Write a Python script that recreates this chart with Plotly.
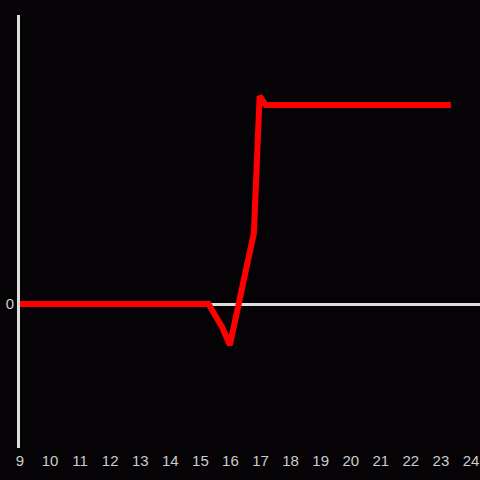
import plotly.graph_objs as go

# 數據
hours = [9, 15.27, 15.72, 15.98, 16.78, 16.97, 17.17, 23.33]
values = [0, 0, -0.23, -0.41, 0.71, 2.08, 1.99, 1.99]
x_ticks = list(range(9, 25))

fig = go.Figure()
fig.add_trace(go.Scatter(x=hours, y=values, mode="lines",
                         line=dict(color="#ff0000", width=6), showlegend=False))

fig.update_layout(
    width=480, height=480,
    paper_bgcolor="#050305", plot_bgcolor="#050305",
    margin=dict(l=20, r=0, t=15, b=32),
    font=dict(family="Liberation Sans, Arial, sans-serif", size=15, color="#cccccc"),
    xaxis=dict(range=[9, 24.3], tickvals=x_ticks, showgrid=False, zeroline=False,
               showline=False, ticks="", automargin=False, ticklabelstandoff=2),
    yaxis=dict(range=[-1.44, 2.89], tickvals=[0], showgrid=False, zeroline=True,
               zerolinecolor="#dddddd", zerolinewidth=3, showline=True,
               linecolor="#dddddd", linewidth=3, ticks="", automargin=False),
)

fig.write_html("out.html", config={"displayModeBar": False},
               post_script="document.body.style.margin='0';document.body.style.background='#050305';")
